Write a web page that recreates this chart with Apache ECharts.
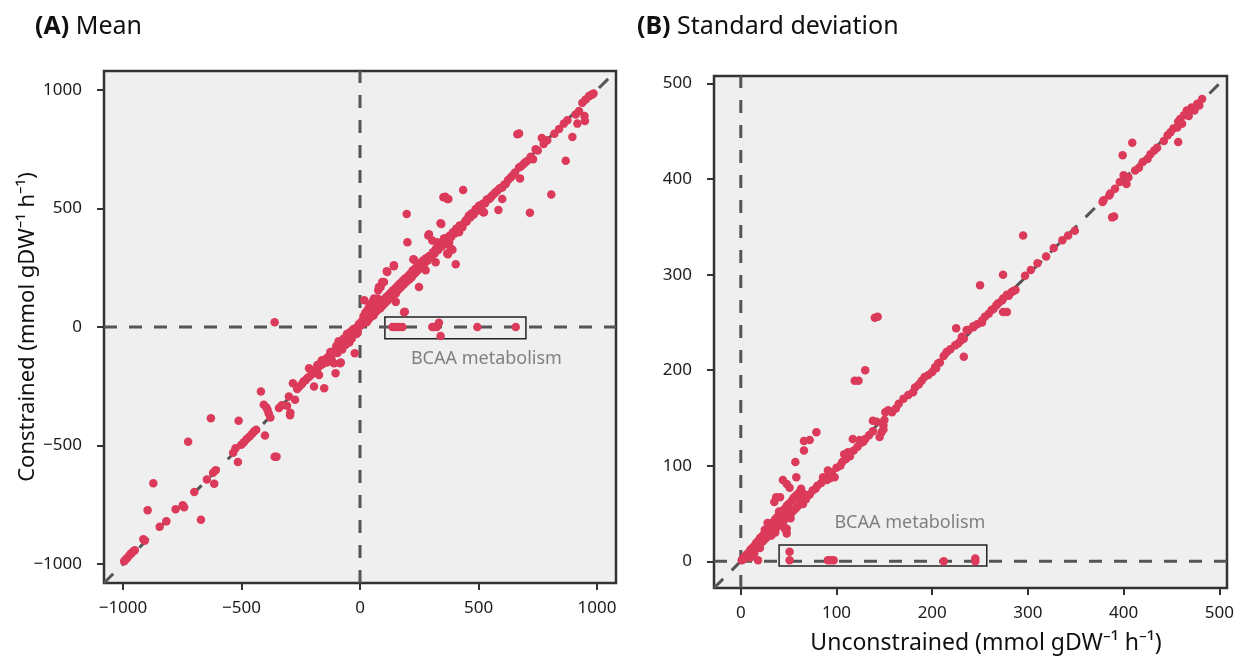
<!DOCTYPE html>
<html>
<head>
<meta charset="utf-8">
<script src="https://cdn.jsdelivr.net/npm/echarts@6/dist/echarts.min.js"></script>
<style>
  html, body { margin: 0; padding: 0; background: #fff; }
  #chart { width: 1246px; height: 663px; }
</style>
</head>
<body>
<div id="chart"></div>
<script>
// tick values
var ticksA = [-1000, -500, 0, 500, 1000];
var ticksB = [0, 100, 200, 300, 400, 500];
var rangeA = [-1080, 1080];
var rangeB = [-28, 508];

// (A) mean: [unconstrained, constrained]
var meanPoints = [
  [-995,-988],[-988,-980],[-980,-972],[-972,-962],[-965,-955],[-958,-948],[-950,-942],
  [-914,-895],[-908,-902],[-896,-773],[-872,-659],[-845,-843],[-817,-820],
  [-778,-769],[-748,-752],[-742,-760],[-725,-484],[-699,-696],[-671,-813],
  [-646,-643],[-615,-661],[-620,-615],[-609,-604],[-629,-385],
  [-535,-531],[-525,-512],[-515,-570],[-512,-396],
  [-501,-497],[-490,-486],[-478,-472],[-466,-462],[-455,-450],[-446,-440],[-438,-433],
  [-418,-272],[-401,-458],[-406,-328],[-390,-350],[-385,-365],[-378,-382],[-395,-340],
  [-360,-547],[-352,-547],[-342,-342],[-330,-330],[-308,-332],[-294,-362],[-295,-372],
  [-283,-237],[-300,-293],[-274,-307],[-265,-262],[-255,-250],[-245,-240],
  [-215,-174],[-201,-188],[-194,-251],[-173,-202],[-151,-258],[-163,-146],
  [-103,-195],[-84,-153],[-110,-153],[-81,-150],[-22,-111],
  [-238,-230],[-230,-225],[-222,-215],[-214,-210],[-205,-200],[-198,-190],[-190,-185],
  [-182,-175],[-176,-170],[-168,-160],[-160,-158],[-152,-145],[-146,-140],[-140,-132],
  [-134,-128],[-128,-120],[-122,-116],[-116,-110],[-110,-102],[-104,-98],[-98,-92],
  [-92,-86],[-86,-80],[-80,-74],[-74,-68],[-68,-62],[-62,-58],[-56,-50],[-50,-44],
  [-44,-38],[-38,-32],[-32,-28],[-26,-22],[-20,-16],[-14,-10],[-8,-4],[-2,2],
  [-180,-160],[-160,-140],[-140,-150],[-125,-105],[-120,-135],[-100,-80],[-95,-110],
  [-70,-50],[-60,-75],[-40,-20],[-35,-50],[-20,-5],[-15,-30],
  [-90,-60],[-75,-95],[-55,-30],[-45,-65],[-28,-10],[-10,-25],[-5,12],
  [0,10],[5,20],[10,12],[12,30],[18,113],[20,25],[25,40],[28,20],[32,45],[35,30],
  [40,55],[42,40],[48,60],[50,45],[55,70],[58,50],[59,120],[62,80],[65,62],[70,85],
  [72,70],[77,155],[80,169],[80,95],[85,78],[87,169],[90,100],[94,190],[95,90],
  [15,45],[22,60],[30,70],[38,85],[45,95],[52,105],[60,65],[68,110],[75,120],
  [100,115],[101,190],[105,100],[110,125],[113,235],[115,232],[115,110],[120,135],
  [125,120],[130,145],[135,130],[140,155],[143,256],[143,260],[145,140],[150,165],
  [151,106],[151,141],[155,150],[160,175],[165,160],[170,185],[175,170],[180,195],
  [186,62],[189,64],[185,180],[190,205],[195,190],[197,477],[200,358],[203,215],
  [208,200],[212,225],[218,210],[222,238],[225,286],[228,284],[230,225],[235,250],
  [240,235],[245,262],[249,169],[250,245],[255,270],[260,255],[265,280],[270,265],
  [277,239],[278,290],[285,280],[288,386],[291,391],[292,300],[300,295],[305,365],
  [308,315],[315,310],[319,273],[320,330],[326,358],[330,325],[335,345],[340,438],
  [343,435],[345,340],[350,360],[352,547],[354,373],[358,350],[359,550],[365,375],
  [368,310],[369,540],[371,307],[373,540],[376,358],[378,385],[383,331],[385,380],
  [390,326],[392,400],[400,395],[404,265],[406,415],[412,408],[418,400],[420,428],
  [428,425],[432,421],[435,578],[440,440],[446,449],[450,445],[455,460],[460,470],
  [465,462],[472,480],[480,475],[488,498],[495,490],[502,512],[510,505],[518,520],
  [520,484],[523,484],[528,522],[535,538],[545,540],[552,547],[558,555],[565,561],
  [572,568],[579,575],[584,494],[590,585],[600,589],[600,540],[608,600],[615,603],
  [625,620],[636,631],[645,640],[654,652],[664,813],[671,816],[671,673],[675,627],
  [680,678],[690,688],[696,694],[705,700],[717,482],[720,718],[730,708],[741,750],
  [750,745],[767,797],[775,772],[790,788],[807,559],[820,815],[840,835],[860,858],
  [868,701],[875,872],[896,802],[910,897],[917,858],[924,911],[938,946],[947,890],
  [949,869],[952,960],[966,974],[972,978],[980,981],[985,985],
  [137,0],[150,0],[165,0],[179,0],[305,0],[312,0],[324,0],[333,18],[340,-38],
  [495,0],[657,0],[-360,20]
];

// (B) standard deviation: [unconstrained, constrained]
var sdPoints = [
  [1,1],[2,3],[3,2],[4,5],[5,4],[6,7],[7,6],[8,9],[9,8],[10,12],[11,10],[12,14],
  [13,11],[14,16],[15,13],[16,19],[17,15],[18,21],[18,1],[19,17],[20,24],[21,19],
  [22,26],[23,21],[24,28],[25,23],[26,31],[27,25],[28,33],[29,27],[30,36],[31,29],
  [32,38],[33,31],[34,41],[35,33],[35,62],[36,44],[37,35],[37,67],[38,46],[39,37],
  [40,48],[41,39],[41,67],[42,51],[43,41],[44,53],[44,85],[45,43],[46,34],[46,55],
  [47,46],[48,29],[48,34],[48,58],[48,81],[49,48],[50,60],[51,77],[52,50],[53,63],
  [54,52],[55,66],[56,54],[57,68],[58,88],[57,104],[58,56],[59,70],[60,58],[61,72],
  [62,60],[62,64],[62,72],[63,67],[63,76],[64,62],[65,60],[65,71],[66,64],[66,116],
  [66,126],[67,66],[68,65],[70,69],[72,127],[72,70],[75,74],[78,76],[79,135],[80,79],
  [10,4],[14,8],[20,14],[25,33],[28,40],[32,27],[36,30],[40,52],[44,38],[52,45],
  [84,82],[86,88],[88,86],[90,85],[91,95],[93,87],[95,93],[98,88],[100,98],[104,100],
  [106,104],[108,112],[110,107],[112,114],[114,110],[117,128],[118,116],[119,189],
  [122,120],[123,189],[124,127],[126,124],[128,125],[130,200],[130,128],[134,132],
  [138,147],[138,136],[140,255],[142,146],[143,256],[145,130],[147,135],[149,142],
  [149,138],[150,148],[151,156],[154,158],[158,156],[162,160],[165,165],[170,170],
  [175,174],[180,177],[182,182],[186,185],[189,189],[192,193],[196,195],[200,198],
  [203,203],[204,202],[206,207],[208,208],[212,215],[215,219],[219,222],[224,226],
  [225,244],[227,228],[230,231],[231,235],[233,214],[233,233],[236,242],[238,242],
  [243,245],[243,246],[247,248],[250,289],[252,250],[252,252],[255,256],[259,259],
  [262,263],[264,264],[267,268],[269,270],[273,273],[274,261],[274,275],[274,300],
  [278,261],[278,279],[280,278],[283,282],[285,283],[287,284],[295,341],[297,299],
  [303,305],[310,312],[319,319],[327,328],[336,336],[342,341],[349,346],[378,376],
  [379,378],[385,383],[386,385],[388,360],[390,361],[391,390],[396,397],[399,425],
  [400,404],[403,395],[405,402],[409,438],[412,409],[416,412],[420,418],[425,421],
  [428,426],[432,430],[435,433],[442,440],[446,446],[449,449],[452,453],[456,454],
  [457,439],[457,460],[459,463],[461,458],[463,467],[466,472],[468,466],[471,475],
  [474,472],[477,479],[479,477],[482,484],
  [51,10],[51,1],[91,1],[94,1],[97,1],[212,0],[245,3],[245,0]
];

// annotation boxes (data coordinates)
var bcaaBoxA = [[105, 42], [700, -50]];
var bcaaBoxB = [[40, 17], [257, -5]];
var bcaaLabel = 'BCAA metabolism';

var FONT = 'Noto Sans';
var dotColor = '#dc3a5a';
var refStyle = { color: '#555', width: 3, type: [13, 12] };

function fmtTick(v) {
  return v < 0 ? '\u2212' + (-v) : String(v);
}

function refLines(idx, r) {
  var base = { type: 'line', xAxisIndex: idx, yAxisIndex: idx, symbol: 'none', silent: true,
    lineStyle: refStyle, z: 1, clip: true, animation: false };
  return [
    Object.assign({ data: [[r[0], r[0]], [r[1], r[1]]] }, base),
    Object.assign({ data: [[r[0], 0], [r[1], 0]] }, base),
    Object.assign({ data: [[0, r[0]], [0, r[1]]] }, base)
  ];
}

function axis(r, ticks, isX) {
  return {
    type: 'value', min: r[0], max: r[1], splitLine: { show: false },
    axisLine: { show: false, onZero: false },
    axisTick: { show: true, customValues: ticks, length: 7, lineStyle: { color: '#333', width: 2 } },
    axisLabel: { customValues: ticks, color: '#1a1a1a', fontSize: 17, fontFamily: FONT,
      margin: isX ? 17 : 22, formatter: fmtTick }
  };
}

function boxArea(box, pos, dist, off) {
  return {
    silent: true,
    itemStyle: { color: 'rgba(0,0,0,0)', borderColor: '#222', borderWidth: 1.5 },
    label: { show: true, position: pos, distance: dist, offset: off, formatter: bcaaLabel,
      color: '#808080', fontSize: 18, fontFamily: FONT },
    data: [[{ coord: box[0] }, { coord: box[1] }]]
  };
}

var myChart = echarts.init(document.getElementById('chart'));
var option = {
  backgroundColor: '#fff',
  animation: false,
  grid: [
    { left: 104, top: 71, width: 512, height: 512, show: true, backgroundColor: '#efefef',
      borderColor: '#333', borderWidth: 2.5 },
    { left: 714, top: 76, width: 513, height: 512, show: true, backgroundColor: '#efefef',
      borderColor: '#333', borderWidth: 2.5 }
  ],
  xAxis: [
    Object.assign({ gridIndex: 0 }, axis(rangeA, ticksA, true)),
    Object.assign({ gridIndex: 1 }, axis(rangeB, ticksB, true))
  ],
  yAxis: [
    Object.assign({ gridIndex: 0 }, axis(rangeA, ticksA, false)),
    Object.assign({ gridIndex: 1 }, axis(rangeB, ticksB, false))
  ],
  graphic: [
    { type: 'text', left: 35, top: 14, style: { text: '{b|(A)} Mean', font: '25px "Noto Sans"', fill: '#111',
      rich: { b: { fontWeight: 'bold', fontSize: 25, fontFamily: FONT, fill: '#111' } } } },
    { type: 'text', left: 637, top: 14, style: { text: '{b|(B)} Standard deviation', font: '25px "Noto Sans"', fill: '#111',
      rich: { b: { fontWeight: 'bold', fontSize: 25, fontFamily: FONT, fill: '#111' } } } },
    { type: 'text', x: 28, y: 327, rotation: Math.PI / 2,
      style: { text: 'Constrained (mmol gDW\u207B\u00B9 h\u207B\u00B9)', font: '22px "Noto Sans"', fill: '#111',
        align: 'center', verticalAlign: 'middle' } },
    { type: 'text', x: 986, y: 643,
      style: { text: 'Unconstrained (mmol gDW\u207B\u00B9 h\u207B\u00B9)', font: '23px "Noto Sans"', fill: '#111',
        align: 'center', verticalAlign: 'middle' } }
  ],
  series: refLines(0, rangeA).concat(refLines(1, rangeB)).concat([
    { type: 'scatter', xAxisIndex: 0, yAxisIndex: 0, data: meanPoints, symbolSize: 8.5,
      itemStyle: { color: dotColor, opacity: 1 }, z: 3,
      markArea: boxArea(bcaaBoxA, 'bottom', 10, [31, 0]) },
    { type: 'scatter', xAxisIndex: 1, yAxisIndex: 1, data: sdPoints, symbolSize: 8.5,
      itemStyle: { color: dotColor, opacity: 1 }, z: 3,
      markArea: boxArea(bcaaBoxB, 'top', 12, [27, 0]) }
  ])
};
myChart.setOption(option);
</script>
</body>
</html>
